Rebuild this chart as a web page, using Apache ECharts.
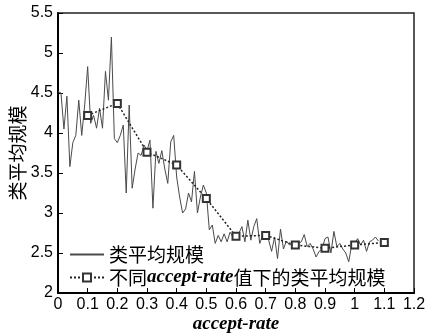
<!DOCTYPE html>
<html>
<head>
<meta charset="utf-8">
<script src="https://cdn.jsdelivr.net/npm/echarts@6/dist/echarts.min.js"></script>
<style>
  html, body { margin: 0; padding: 0; background: #fff; }
  #chart { width: 425px; height: 334px; }
</style>
</head>
<body>
<div id="chart"></div>
<script>
// Average cluster size sampled every 0.01 of accept-rate (0 .. 1.08)
const sampleStep = 0.01;
const clusterSize = [
  4.52, 4.50, 4.05, 4.46, 3.58, 3.88, 3.97, 4.41, 3.97, 4.35,
  4.83, 4.12, 4.22, 4.06, 4.31, 4.06, 4.77, 4.41, 5.20, 3.93,
  3.88, 3.97, 4.10, 3.25, 4.35, 3.31, 3.55, 3.75, 3.72, 3.85,
  3.78, 3.91, 3.06, 3.77, 3.62, 3.78, 3.55, 3.37, 3.89, 3.97,
  3.45, 3.20, 3.00, 3.05, 3.25, 3.14, 3.52, 3.00, 3.20, 3.35,
  3.25, 2.79, 2.85, 2.62, 2.72, 2.64, 2.74, 2.64, 2.76, 2.70,
  2.70, 2.75, 2.83, 2.64, 2.91, 2.66, 2.83, 2.93, 2.62, 2.72,
  2.72, 2.66, 2.52, 2.70, 2.43, 2.80, 2.55, 2.65, 2.60, 2.62,
  2.60, 2.62, 2.64, 2.73, 2.58, 2.62, 2.55, 2.45, 2.52, 2.55,
  2.68, 2.70, 2.50, 2.77, 2.58, 2.62, 2.55, 2.50, 2.39, 2.60,
  2.62, 2.68, 2.60, 2.66, 2.52, 2.64, 2.66, 2.70, 2.65
];

// Mean cluster size at each accept-rate setting
const acceptRates = [0.1, 0.2, 0.3, 0.4, 0.5, 0.6, 0.7, 0.8, 0.9, 1.0, 1.1];
const meanSize    = [4.22, 4.37, 3.76, 3.60, 3.18, 2.71, 2.72, 2.60, 2.56, 2.60, 2.63];

const xTickLabels = ['0', '0.1', '0.2', '0.3', '0.4', '0.5', '0.6', '0.7', '0.8', '0.9', '1', '1.1', '1.2'];
const yTickLabels = ['2', '2.5', '3', '3.5', '4', '4.5', '5', '5.5'];

const seriesNames = ['类平均规模', '不同accept-rate值下的类平均规模'];

const cjk = '"Noto Sans CJK SC", sans-serif';
const latinSerif = '"Liberation Serif", "DejaVu Serif", serif';
const tickFont = '"Liberation Sans", Arial, sans-serif';

const noisyPoints = clusterSize.map((v, i) => [i * sampleStep, v]);
const meanPoints = acceptRates.map((x, i) => [x, meanSize[i]]);

const chart = echarts.init(document.getElementById('chart'), null, { renderer: 'canvas' });

chart.setOption({
  animation: false,
  backgroundColor: '#fff',
  grid: {
    left: 58, right: 11, top: 13, bottom: 41,
    outerBoundsMode: 'none',
    containLabel: false,
    show: true, borderColor: '#222', borderWidth: 1.5, backgroundColor: 'transparent'
  },
  legend: {
    orient: 'vertical',
    left: 64,
    top: 240,
    itemWidth: 34,
    itemHeight: 10,
    itemGap: 4,
    data: [
      { name: seriesNames[0], itemStyle: { opacity: 0 } },
      { name: seriesNames[1] }
    ],
    formatter: function (name) {
      if (name === seriesNames[1]) {
        return '{cn|不同}{en|accept-rate}{cn|值下的类平均规模}';
      }
      return '{cn|' + name + '}';
    },
    textStyle: {
      color: '#000',
      rich: {
        cn: { fontFamily: cjk, fontSize: 19, lineHeight: 22, color: '#000' },
        en: { fontFamily: latinSerif, fontSize: 19, fontStyle: 'italic', fontWeight: 'bold', lineHeight: 22, color: '#000' }
      }
    }
  },
  xAxis: {
    type: 'value',
    min: 0, max: 1.2, interval: 0.1,
    name: 'accept-rate',
    nameLocation: 'middle',
    nameGap: 22,
    nameMoveOverlap: false,
    nameTextStyle: { fontFamily: latinSerif, fontSize: 19, fontStyle: 'italic', fontWeight: 'bold', color: '#000' },
    axisLine: { onZero: false, lineStyle: { color: '#000', width: 2 } },
    axisTick: { inside: true, length: 5, lineStyle: { color: '#000', width: 1 } },
    axisLabel: {
      margin: 4, color: '#000', fontSize: 16, fontFamily: tickFont,
      formatter: v => xTickLabels[Math.round(v * 10)]
    },
    splitLine: { show: false }
  },
  yAxis: {
    type: 'value',
    min: 2, max: 5.5, interval: 0.5,
    name: '类平均规模',
    nameLocation: 'middle',
    nameGap: 31,
    nameMoveOverlap: false,
    nameRotate: 90,
    nameTextStyle: { fontFamily: cjk, fontSize: 19, color: '#000' },
    axisLine: { onZero: false, lineStyle: { color: '#000', width: 2 } },
    axisTick: { inside: true, length: 5, lineStyle: { color: '#000', width: 1 } },
    axisLabel: {
      margin: 5, color: '#000', fontSize: 16, fontFamily: tickFont,
      formatter: v => yTickLabels[Math.round((v - 2) * 2)]
    },
    splitLine: { show: false }
  },
  series: [
    {
      name: seriesNames[0],
      type: 'line',
      data: noisyPoints,
      symbol: 'none',
      lineStyle: { color: '#4a4a4a', width: 1 },
      itemStyle: { color: '#4a4a4a' },
      z: 2
    },
    {
      name: seriesNames[1],
      type: 'line',
      data: meanPoints,
      symbol: 'emptyRect',
      symbolSize: 7,
      lineStyle: { color: '#222', width: 1.5, type: [2, 2] },
      itemStyle: { color: '#333', borderColor: '#333', borderWidth: 1.5 },
      z: 3
    }
  ]
});
</script>
</body>
</html>
